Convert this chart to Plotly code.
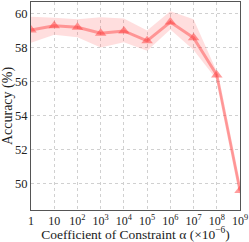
import plotly.graph_objects as go

alpha_vals = [1, 10, 1e2, 1e3, 1e4, 1e5, 1e6, 1e7, 1e8, 1e9]
acc_mean = [59.02, 59.27, 59.18, 58.84, 58.97, 58.39, 59.49, 58.57, 56.38, 49.6]
acc_upper = [59.80, 59.75, 59.65, 59.78, 59.70, 59.00, 60.13, 59.65, 56.58, 49.9]
acc_lower = [58.27, 58.75, 58.60, 58.00, 58.30, 57.80, 59.05, 57.85, 56.10, 49.3]
tick_vals = [1, 10, 1e2, 1e3, 1e4, 1e5, 1e6, 1e7, 1e8, 1e9]
tick_text = ["1", "10", "10<sup>2</sup>", "10<sup>3</sup>", "10<sup>4</sup>", "10<sup>5</sup>",
             "10<sup>6</sup>", "10<sup>7</sup>", "10<sup>8</sup>", "10<sup>9</sup>"]
y_ticks = [50, 52, 54, 56, 58, 60]

fig = go.Figure()
fig.add_trace(go.Scatter(x=alpha_vals, y=acc_upper, mode="lines", line=dict(width=0),
                         showlegend=False, hoverinfo="skip"))
fig.add_trace(go.Scatter(x=alpha_vals, y=acc_lower, mode="lines", line=dict(width=0),
                         fill="tonexty", fillcolor="rgba(255,90,90,0.2)",
                         showlegend=False, hoverinfo="skip"))
fig.add_trace(go.Scatter(x=alpha_vals, y=acc_mean, mode="lines+markers",
                         line=dict(color="rgba(255,60,60,0.45)", width=3),
                         marker=dict(symbol="triangle-up", size=10, color="rgba(255,60,60,0.5)",
                                     line=dict(width=0)),
                         showlegend=False, cliponaxis=True))

font_family = "Liberation Serif"
fig.update_layout(
    width=249, height=242,
    margin=dict(l=31, r=9, t=2, b=32),
    paper_bgcolor="white", plot_bgcolor="white",
    font=dict(family=font_family, size=12, color="#222"),
)
fig.update_xaxes(type="log", range=[0, 9], tickvals=tick_vals, ticktext=tick_text,
                 showgrid=True, gridcolor="#d0d0d0", griddash="dot", gridwidth=1,
                 showline=True, linecolor="#555", linewidth=1, mirror=True,
                 ticks="", tickfont=dict(size=12), zeroline=False, automargin=False,
                 ticklabeloverflow="allow",
                 title=dict(text="Coefficient of Constraint α (×10<sup>−6</sup>)",
                            font=dict(size=13.5), standoff=4))
fig.update_yaxes(range=[48.45, 60.67], tickvals=y_ticks,
                 showgrid=True, gridcolor="#d0d0d0", griddash="dot", gridwidth=1,
                 showline=True, linecolor="#555", linewidth=1, mirror=True,
                 ticks="", tickfont=dict(size=12.5), zeroline=False, automargin=False,
                 ticklabeloverflow="allow",
                 title=dict(text="Accuracy (%)", font=dict(size=14), standoff=2))

fig.write_html("out.html", config={"displayModeBar": False},
               post_script="document.body.style.margin='0';document.body.style.overflow='hidden';")
